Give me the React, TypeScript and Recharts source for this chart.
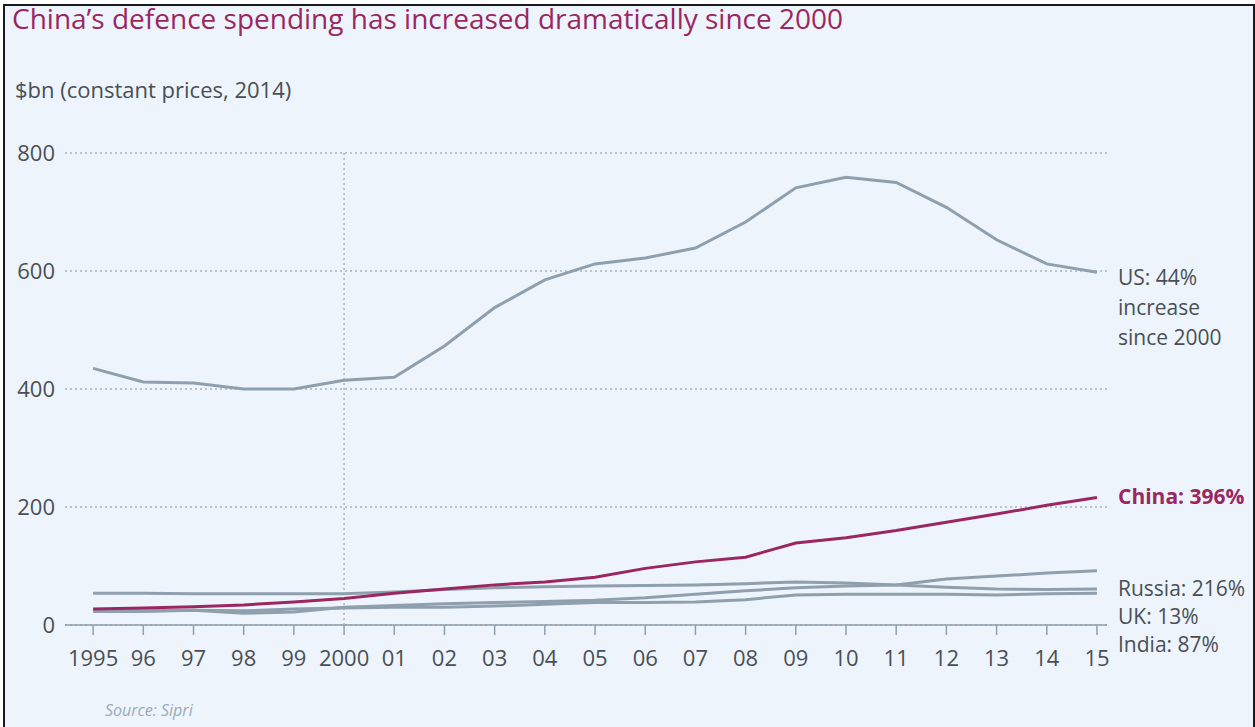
import React from "react";
import { LineChart, Line, XAxis, YAxis, CartesianGrid, ReferenceLine } from "recharts";

const years = [1995, 1996, 1997, 1998, 1999, 2000, 2001, 2002, 2003, 2004, 2005, 2006, 2007, 2008, 2009, 2010, 2011, 2012, 2013, 2014, 2015];
const us = [435, 412, 410, 400, 400, 415, 420, 473, 538, 585, 612, 622, 639, 683, 741, 759, 750, 708, 653, 612, 598];
const china = [27, 29, 31, 34, 39, 45, 54, 61, 68, 73, 81, 96, 107, 115, 139, 148, 160, 174, 188, 203, 216];
const russia = [25, 24, 25, 20, 22, 30, 33, 36, 38, 40, 42, 46, 52, 58, 63, 66, 68, 78, 83, 88, 92];
const uk = [54, 54, 53, 53, 53, 53, 56, 60, 63, 65, 66, 67, 68, 70, 73, 71, 68, 64, 61, 60, 61];
const india = [23, 23, 25, 24, 27, 29, 30, 30, 32, 35, 38, 38, 39, 43, 51, 52, 52, 52, 51, 53, 54];
const yTicks = [0, 200, 400, 600, 800];

const title = "China\u2019s defence spending has increased dramatically since 2000";
const subtitle = "$bn (constant prices, 2014)";
const source = "Source: Sipri";

const data = years.map((y, i) => ({
  year: y,
  us: us[i],
  china: china[i],
  russia: russia[i],
  uk: uk[i],
  india: india[i],
}));

const FONT = "'Open Sans', Lato, sans-serif";
const GRAY = "#8F9FAD";
const PLUM = "#9B2760";
const TEXT = "#4A4F55";

const fmtYear = (v: number) => (v === 1995 || v === 2000 ? String(v) : String(v % 100).padStart(2, "0"));

const labelStyle: React.CSSProperties = {
  position: "absolute",
  left: 1118,
  fontSize: 21,
  color: TEXT,
  fontFamily: FONT,
  lineHeight: "30px",
  whiteSpace: "nowrap",
};

export default function App() {
  return (
    <div style={{ position: "absolute", left: 0, top: 0, width: 1255, height: 727, background: "#fff", overflow: "hidden" }}>
      <div
        style={{
          position: "absolute",
          left: 3,
          top: 4,
          width: 1248,
          height: 740,
          border: "2px solid #1a1a1a",
          background: "#EDF4FC",
        }}
      />
      <div style={{ position: "absolute", left: 12, top: 1, fontSize: 28, lineHeight: "34px", color: PLUM, fontFamily: FONT, whiteSpace: "nowrap" }}>{title}</div>
      <div style={{ position: "absolute", left: 15, top: 76, fontSize: 22, lineHeight: "26px", color: TEXT, fontFamily: FONT, whiteSpace: "nowrap" }}>{subtitle}</div>
      <div style={{ position: "absolute", left: 0, top: 0 }}>
        <LineChart width={1255} height={727} data={data} margin={{ top: 153, right: 148, bottom: 72, left: 0 }}>
          <CartesianGrid vertical={false} stroke="#A9B4C0" strokeDasharray="2 3" strokeWidth={1.5} />
          <XAxis
            dataKey="year"
            type="number"
            domain={[1994.44, 2015.2]}
            ticks={years}
            tickFormatter={fmtYear}
            interval={0}
            stroke="#8F9FAD"
            strokeWidth={1.5}
            tickSize={10}
            tickMargin={15}
            height={30}
            tick={{ fill: TEXT, fontSize: 22, fontFamily: FONT }}
          />
          <YAxis
            domain={[0, 800]}
            ticks={yTicks}
            axisLine={false}
            tickLine={false}
            tickSize={0}
            tickMargin={10}
            width={65}
            tick={{ fill: TEXT, fontSize: 22, fontFamily: FONT }}
          />
          <ReferenceLine x={2000} stroke="#A9B4C0" strokeDasharray="2 3" strokeWidth={1.5} />
          <Line dataKey="us" stroke={GRAY} strokeWidth={3} dot={false} isAnimationActive={false} />
          <Line dataKey="india" stroke={GRAY} strokeWidth={3} dot={false} isAnimationActive={false} />
          <Line dataKey="russia" stroke={GRAY} strokeWidth={3} dot={false} isAnimationActive={false} />
          <Line dataKey="uk" stroke={GRAY} strokeWidth={3} dot={false} isAnimationActive={false} />
          <Line dataKey="china" stroke={PLUM} strokeWidth={3} dot={false} isAnimationActive={false} />
        </LineChart>
      </div>
      <div style={{ ...labelStyle, top: 262 }}>US: 44%</div>
      <div style={{ ...labelStyle, top: 292 }}>increase</div>
      <div style={{ ...labelStyle, top: 322 }}>since 2000</div>
      <div style={{ ...labelStyle, top: 481, color: PLUM, fontWeight: 700 }}>China: 396%</div>
      <div style={{ ...labelStyle, top: 573 }}>Russia: 216%</div>
      <div style={{ ...labelStyle, top: 601 }}>UK: 13%</div>
      <div style={{ ...labelStyle, top: 629 }}>India: 87%</div>
      <div style={{ position: "absolute", left: 105, top: 699, fontSize: 16, lineHeight: "22px", fontStyle: "italic", color: "#9AAAB9", fontFamily: FONT, whiteSpace: "nowrap" }}>{source}</div>
    </div>
  );
}
